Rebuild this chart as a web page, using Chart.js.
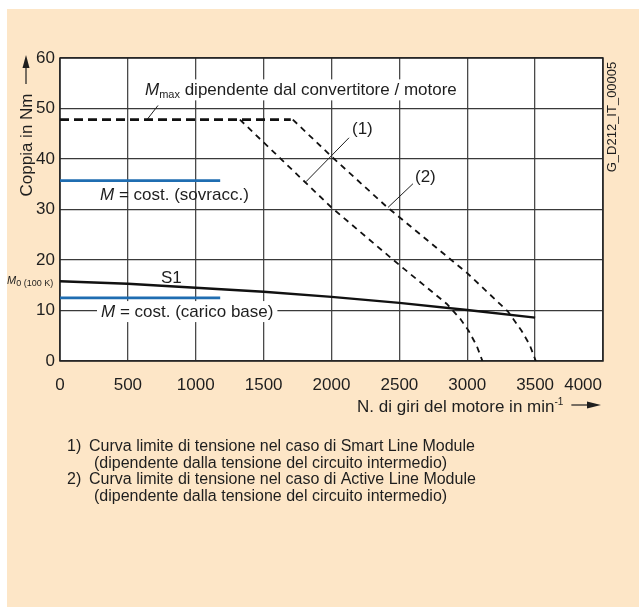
<!DOCTYPE html>
<html>
<head>
<meta charset="utf-8">
<script src="https://cdn.jsdelivr.net/npm/chart.js@4.4.0/dist/chart.umd.min.js"></script>
<style>
body { margin: 0; background: #fff; }
</style>
</head>
<body>
<canvas id="torqueChart" width="639" height="607"></canvas>
<script>
// tick labels
const rpmTicks = [0, 500, 1000, 1500, 2000, 2500, 3000, 3500, 4000];
const torqueTicks = [0, 10, 20, 30, 40, 50, 60];

// M max (converter / motor)
const mmaxRpm = [0, 1700];
const mmaxTorque = [47.8, 47.8];

// (1) voltage limit, Smart Line Module
const curve1Rpm = [1325, 2000, 2500, 2850, 2950, 3010, 3070, 3112];
const curve1Torque = [47.8, 30.4, 19.0, 11.3, 8.3, 6.0, 3.0, 0];

// (2) voltage limit, Active Line Module
const curve2Rpm = [1715, 2000, 2400, 3000, 3300, 3400, 3460, 3505];
const curve2Torque = [47.8, 40.5, 30.7, 17.4, 9.8, 6.0, 3.2, 0];

// S1
const s1Rpm = [0, 500, 1000, 1500, 2000, 2500, 3000, 3500];
const s1Torque = [15.8, 15.3, 14.5, 13.7, 12.7, 11.5, 10.1, 8.6];

// M = cost.
const constRpm = [0, 1180];
const overloadTorque = [35.7, 35.7];
const baseLoadTorque = [12.5, 12.5];

const FONT = '"Liberation Sans", Arial, sans-serif';
const INK = '#1e1e1e';
const BLUE = '#1f6db1';
const LAST_RPM = rpmTicks[rpmTicks.length - 1];

function pts(xs, ys) {
    return xs.map((x, i) => ({ x: x, y: ys[i] }));
}

function richText(ctx, x, y, parts) {
    let cx = x;
    parts.forEach(p => {
        ctx.font = p.font;
        ctx.fillText(p.t, cx, y + (p.dy || 0));
        cx += ctx.measureText(p.t).width;
    });
    return cx;
}

function richWidth(ctx, parts) {
    let w = 0;
    parts.forEach(p => { ctx.font = p.font; w += ctx.measureText(p.t).width; });
    return w;
}

const it17 = 'italic 17px ' + FONT;
const n17 = '17px ' + FONT;
const s11 = '11px ' + FONT;

// labels placed in data units (rpm, Nm)
const notes = [
    { x: 626, y: 52.6, box: true, parts: [{ t: 'M', font: it17 }, { t: 'max', font: s11, dy: 3 }, { t: ' dipendente dal convertitore / motore', font: n17 }] },
    { x: 295, y: 31.8, parts: [{ t: 'M', font: it17 }, { t: ' = cost. (sovracc.)', font: n17 }] },
    { x: 744, y: 15.5, parts: [{ t: 'S1', font: n17 }] },
    { x: 302, y: 8.7, box: true, parts: [{ t: 'M', font: it17 }, { t: ' = cost. (carico base)', font: n17 }] },
    { x: 2151, y: 45.0, parts: [{ t: '(1)', font: n17 }] },
    { x: 2615, y: 35.5, parts: [{ t: '(2)', font: n17 }] }
];
const leaders = [
    [641, 47.8, 722, 50.6],
    [1812, 35.5, 2129, 44.2],
    [2416, 30.4, 2600, 35.1]
];

const footnotes = [
    ['1)', 'Curva limite di tensione nel caso di Smart Line Module'],
    ['', '(dipendente dalla tensione del circuito intermedio)'],
    ['2)', 'Curva limite di tensione nel caso di Active Line Module'],
    ['', '(dipendente dalla tensione del circuito intermedio)']
];

const decor = {
    id: 'decor',
    beforeDraw(chart) {
        const ctx = chart.ctx, a = chart.chartArea;
        ctx.save();
        ctx.fillStyle = '#fff';
        ctx.fillRect(0, 0, chart.width, chart.height);
        ctx.fillStyle = '#fde6c7';
        ctx.fillRect(7, 9, chart.width - 7, chart.height - 9);
        ctx.fillStyle = '#fff';
        ctx.fillRect(a.left, a.top, a.right - a.left, a.bottom - a.top);
        ctx.restore();
    },
    beforeDatasetsDraw(chart) {
        const ctx = chart.ctx, a = chart.chartArea;
        const xs = chart.scales.x, ys = chart.scales.y;
        ctx.save();
        ctx.strokeStyle = '#222';
        ctx.lineWidth = 1.5;
        ctx.strokeRect(a.left, a.top, a.right - a.left, a.bottom - a.top);

        ctx.textBaseline = 'alphabetic';
        ctx.textAlign = 'left';
        notes.forEach(n => {
            const px = xs.getPixelForValue(n.x), py = ys.getPixelForValue(n.y);
            if (n.box) {
                const w = richWidth(ctx, n.parts);
                ctx.fillStyle = '#fff';
                ctx.fillRect(px - 4, py - 16, w + 8, 21);
            }
            ctx.fillStyle = INK;
            richText(ctx, px, py, n.parts);
        });

        ctx.strokeStyle = INK;
        ctx.lineWidth = 1;
        leaders.forEach(l => {
            ctx.beginPath();
            ctx.moveTo(xs.getPixelForValue(l[0]), ys.getPixelForValue(l[1]));
            ctx.lineTo(xs.getPixelForValue(l[2]), ys.getPixelForValue(l[3]));
            ctx.stroke();
        });
        ctx.restore();
    },
    afterDraw(chart) {
        const ctx = chart.ctx, xs = chart.scales.x, ys = chart.scales.y;
        ctx.save();
        ctx.fillStyle = INK;
        ctx.strokeStyle = INK;

        // last x tick label sits left of the corner, as in the original
        ctx.font = n17;
        ctx.textAlign = 'right';
        ctx.fillText(String(LAST_RPM), xs.getPixelForValue(LAST_RPM) - 1, 390);
        ctx.textAlign = 'left';

        // M0 (100 K)
        const m0y = ys.getPixelForValue(s1Torque[0]) + 3;
        richText(ctx, 7, m0y, [{ t: 'M', font: 'italic 11px ' + FONT }, { t: '0 (100 K)', font: '9px ' + FONT, dy: 2 }]);

        // y axis title with arrow
        ctx.save();
        ctx.translate(32, 145);
        ctx.rotate(-Math.PI / 2);
        ctx.font = n17;
        ctx.textAlign = 'center';
        ctx.fillText('Coppia in Nm', 0, 0);
        ctx.restore();
        ctx.lineWidth = 1.2;
        ctx.beginPath();
        ctx.moveTo(26, 84);
        ctx.lineTo(26, 64);
        ctx.stroke();
        ctx.beginPath();
        ctx.moveTo(26, 55);
        ctx.lineTo(29.5, 68);
        ctx.lineTo(22.5, 68);
        ctx.closePath();
        ctx.fill();

        // x axis title with arrow
        const end = richText(ctx, 357, 412, [{ t: 'N. di giri del motore in min', font: n17 }, { t: '-1', font: '10px ' + FONT, dy: -7 }]);
        ctx.beginPath();
        ctx.moveTo(end + 8, 405);
        ctx.lineTo(590, 405);
        ctx.stroke();
        ctx.beginPath();
        ctx.moveTo(601, 405);
        ctx.lineTo(587, 401.5);
        ctx.lineTo(587, 408.5);
        ctx.closePath();
        ctx.fill();

        // drawing id
        ctx.save();
        ctx.translate(616, 117);
        ctx.rotate(-Math.PI / 2);
        ctx.font = '13px ' + FONT;
        ctx.textAlign = 'center';
        ctx.fillText('G_D212_IT_00005', 0, 0);
        ctx.restore();

        // footnotes
        ctx.font = '16px ' + FONT;
        footnotes.forEach((f, i) => {
            const by = 451 + i * 16.6;
            if (f[0]) ctx.fillText(f[0], 67, by);
            ctx.fillText(f[1], f[0] ? 89 : 94, by);
        });
        ctx.restore();
    }
};

const line = (data, color, width, dash) => ({
    data: data,
    showLine: true,
    borderColor: color,
    borderWidth: width,
    borderDash: dash || [],
    pointRadius: 0,
    fill: false,
    tension: 0
});

const ctx = document.getElementById('torqueChart').getContext('2d');

new Chart(ctx, {
    type: 'scatter',
    data: {
        datasets: [
            line(pts(mmaxRpm, mmaxTorque), '#111', 2.6, [9, 5]),
            line(pts(curve1Rpm, curve1Torque), '#111', 1.8, [6, 5]),
            line(pts(curve2Rpm, curve2Torque), '#111', 1.8, [6, 5]),
            line(pts(s1Rpm, s1Torque), '#111', 2.4),
            line(pts(constRpm, overloadTorque), BLUE, 2.8),
            line(pts(constRpm, baseLoadTorque), BLUE, 2.8)
        ]
    },
    options: {
        responsive: false,
        animation: false,
        devicePixelRatio: 1,
        layout: { padding: { top: 58, right: 36, left: 0, bottom: 0 } },
        plugins: {
            legend: { display: false },
            tooltip: { enabled: false }
        },
        scales: {
            x: {
                type: 'linear',
                min: 0,
                max: 4000,
                afterFit: s => { s.height = 246; },
                afterBuildTicks: s => { s.ticks = rpmTicks.map(v => ({ value: v })); },
                grid: { color: '#4a4a4a', lineWidth: 1.3, drawTicks: false },
                border: { display: false },
                ticks: {
                    color: INK,
                    font: { family: FONT, size: 17 },
                    padding: 14,
                    maxRotation: 0,
                    autoSkip: false,
                    callback: v => v === LAST_RPM ? '' : String(v)
                }
            },
            y: {
                min: 0,
                max: 60,
                afterFit: s => { s.width = 60; },
                afterBuildTicks: s => { s.ticks = torqueTicks.map(v => ({ value: v })); },
                grid: { color: '#3a3a3a', lineWidth: 1.2, drawTicks: false },
                border: { display: false },
                ticks: { color: INK, font: { family: FONT, size: 17 }, padding: 5, callback: v => String(v) }
            }
        }
    },
    plugins: [decor]
});
</script>
</body>
</html>
